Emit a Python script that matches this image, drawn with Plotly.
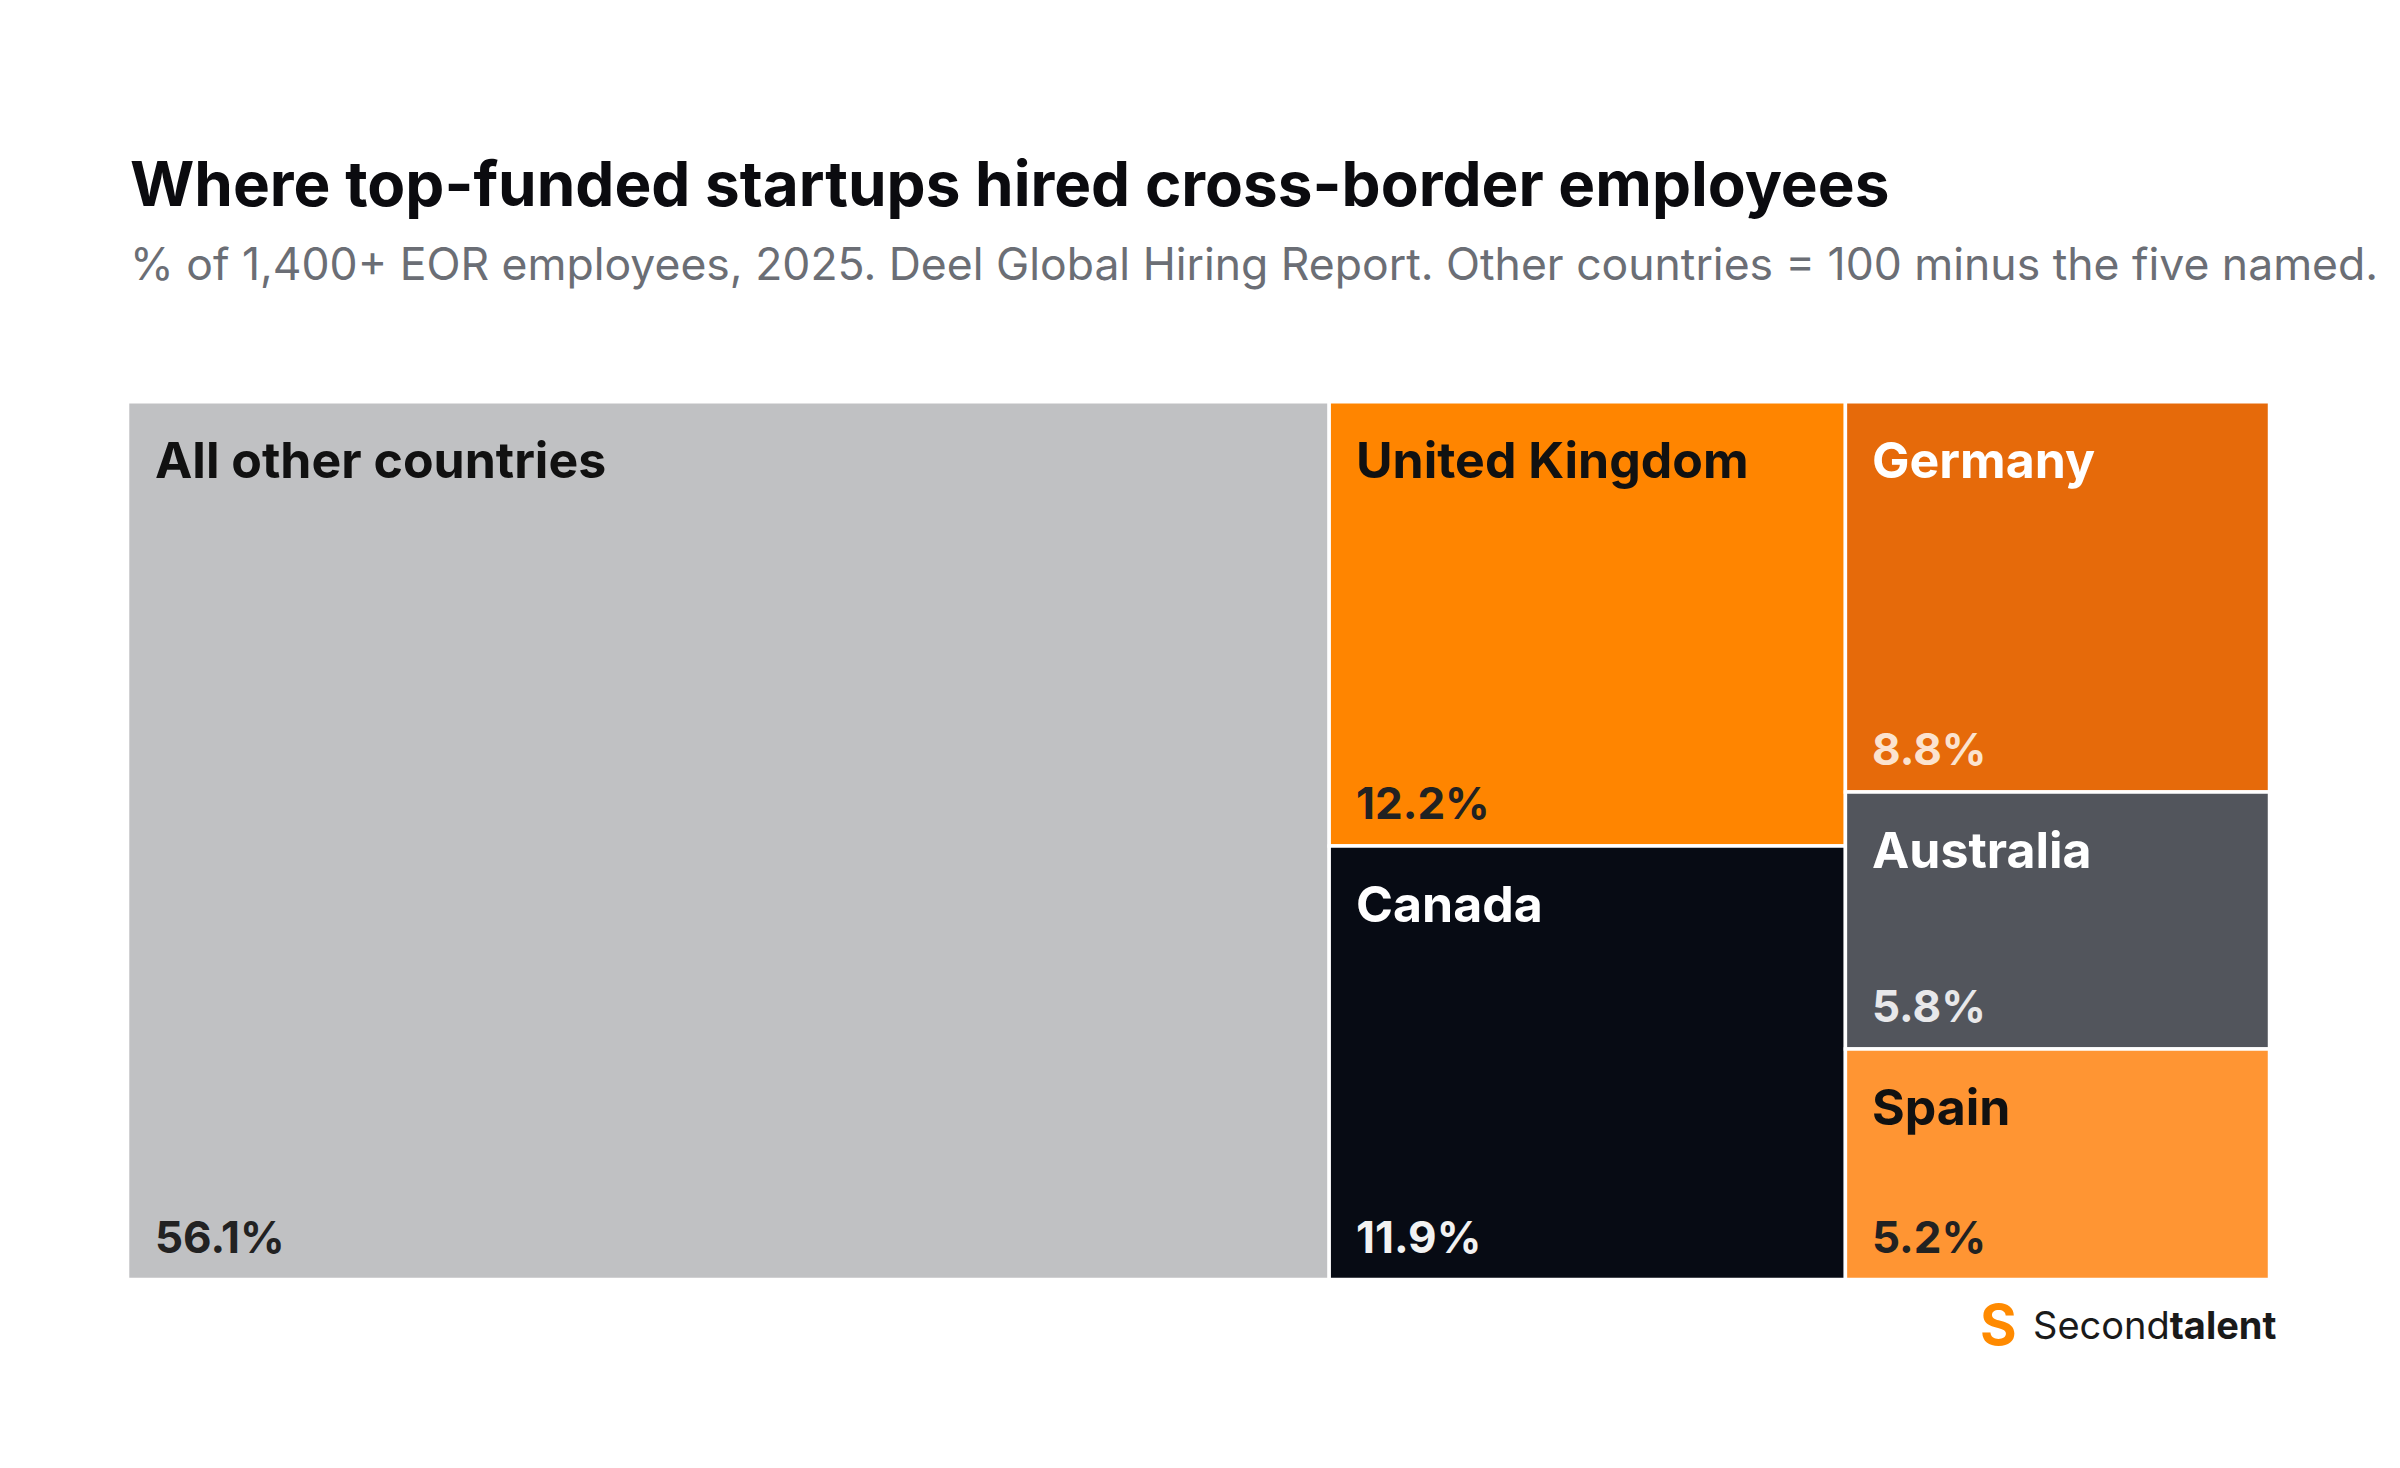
import plotly.graph_objects as go

groups = ["g1", "g2", "g3"]
countries = ["All other countries", "United Kingdom", "Canada", "Germany", "Australia", "Spain"]
values = [56.1, 12.2, 11.9, 8.8, 5.8, 5.2]
parents_of = ["g1", "g2", "g2", "g3", "g3", "g3"]
colors = ["#C0C1C3", "#FF8500", "#070B14", "#E66A0A", "#52555C", "#FF9533"]
label_colors = ["#111111", "#111111", "#FFFFFF", "#FFFFFF", "#FFFFFF", "#111111"]
pct_colors = ["#222222", "#222222", "#F2F2F2", "#FBE3CF", "#E8E8EA", "#222222"]

gsum = {g: round(sum(v for v, p in zip(values, parents_of) if p == g), 4) for g in groups}
ids = ["root"] + groups + countries
labels = [""] * 4 + countries
parents = [""] + ["root"] * 3 + parents_of
vals = [round(sum(values), 4)] + [gsum[g] for g in groups] + values
cols = ["#FFFFFF"] * 4 + colors

DX, DY = -0.0047, 0.0078
X0, X1 = 0.0545 + DX, 0.9470 + DX
Y0, Y1 = 0.126 + DY, 0.724 + DY

fig = go.Figure(go.Treemap(
    ids=ids, labels=labels, parents=parents, values=vals,
    branchvalues="total", sort=False,
    marker=dict(colors=cols, line=dict(color="white", width=3.5),
                pad=dict(t=0, l=0, r=0, b=0)),
    tiling=dict(packing="slice-dice", pad=0),
    pathbar=dict(visible=False),
    textinfo="none", hovertemplate="%{label}: %{value}%<extra></extra>",
    domain=dict(x=[X0, X1], y=[Y0, Y1]),
))

anns = []
W, H = X1 - X0, Y1 - Y0
xl = X0
for g in groups:
    gw = gsum[g] / 100 * W
    yt = Y1
    for c, v, p, lc, pc in zip(countries, values, parents_of, label_colors, pct_colors):
        if p != g:
            continue
        h = v / gsum[g] * H
        anns.append(dict(x=xl, y=yt, xref="paper", yref="paper", xanchor="left", yanchor="top",
                         text=f"<b>{c}</b>", showarrow=False, xshift=25, yshift=-26,
                         font=dict(family="Inter", size=50, color=lc)))
        anns.append(dict(x=xl, y=yt - h, xref="paper", yref="paper", xanchor="left", yanchor="bottom",
                         text=f"<b>{v}%</b>", showarrow=False, xshift=25, yshift=14,
                         font=dict(family="Inter", size=44, color=pc)))
        yt -= h
    xl += gw

anns.append(dict(x=0.0545 + DX, y=0.8727 + DY, xref="paper", yref="paper", xanchor="left", yanchor="middle",
                 text="<b>Where top-funded startups hired cross-border employees</b>", showarrow=False,
                 font=dict(family="Inter", size=62, color="#0B0B0F")))
anns.append(dict(x=0.0545 + DX, y=0.818 + DY, xref="paper", yref="paper", xanchor="left", yanchor="middle",
                 text="% of 1,400+ EOR employees, 2025. Deel Global Hiring Report. Other countries = 100 minus the five named.",
                 showarrow=False, font=dict(family="Inter", size=44.5, color="#6B6E75")))
anns.append(dict(x=0.951 + DX, y=0.095 + DY, xref="paper", yref="paper", xanchor="right", yanchor="middle",
                 text="Second<b>talent</b>", showarrow=False,
                 font=dict(family="Inter", size=38, color="#1A1A1A")))
anns.append(dict(x=0.8255 + DX, y=0.095 + DY, xref="paper", yref="paper", xanchor="left", yanchor="middle",
                 text="<b>S</b>", showarrow=False,
                 font=dict(family="Inter", size=56, color="#FF8A00")))
fig.update_layout(width=2400, height=1468, margin=dict(l=0, r=0, t=0, b=0),
                  paper_bgcolor="white", annotations=anns)
fig.write_html("out.html")
